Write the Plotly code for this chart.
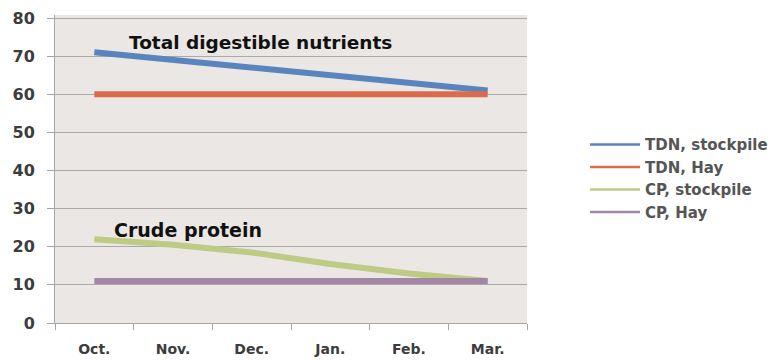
import plotly.graph_objects as go

months = ["Oct.", "Nov.", "Dec.", "Jan.", "Feb.", "Mar."]
tdn_stockpile = [71, 69, 67, 65, 63, 61]
tdn_hay = [60, 60, 60, 60, 60, 60]
cp_stockpile = [22, 20.5, 18.5, 15.5, 13, 11]
cp_hay = [11, 11, 11, 11, 11, 11]

series = [
    ("TDN, stockpile", tdn_stockpile, "#5A84BE"),
    ("TDN, Hay", tdn_hay, "#DA6C4C"),
    ("CP, stockpile", cp_stockpile, "#BDCB84"),
    ("CP, Hay", cp_hay, "#A385A6"),
]

FONT = "DejaVu Sans"

fig = go.Figure()
for name, vals, color in series:
    # thick data line
    fig.add_trace(go.Scatter(
        x=months, y=vals, name=name, mode="lines", showlegend=False,
        line=dict(color=color, width=6),
    ))
for name, vals, color in series:
    # thin legend key for the same series
    fig.add_trace(go.Scatter(
        x=[None], y=[None], name=name, mode="lines",
        line=dict(color=color, width=2.5),
    ))

fig.add_annotation(x=0.42, y=73.5, xref="x", yref="y", text="<b>Total digestible nutrients</b>",
                   showarrow=False, xanchor="left", yanchor="middle",
                   font=dict(family=FONT, size=18.5, color="#111111"))
fig.add_annotation(x=0.23, y=24.4, xref="x", yref="y", text="<b>Crude protein</b>",
                   showarrow=False, xanchor="left", yanchor="middle",
                   font=dict(family=FONT, size=19, color="#111111"))

fig.update_layout(
    width=775, height=360,
    margin=dict(l=55, r=248, t=15, b=37, autoexpand=False),
    paper_bgcolor="white",
    plot_bgcolor="#EAE7E4",
    font=dict(family=FONT, size=12, color="#404040"),
    legend=dict(x=1.123, y=0.47, xanchor="left", yanchor="middle",
                font=dict(family=FONT, size=15, color="#555555", weight="bold"),
                bgcolor="rgba(0,0,0,0)", tracegroupgap=0, itemwidth=50),
)
fig.update_xaxes(
    type="category", range=[-0.5, 5.5], automargin=False,
    showline=True, linecolor="#A8A5A3", linewidth=1,
    ticks="outside", tickson="boundaries", ticklen=6, tickcolor="#A8A5A3",
    ticklabelstandoff=13,
    showgrid=False, tickfont=dict(family=FONT, size=14, color="#3C3C3C", weight="bold"),
)
fig.update_yaxes(
    range=[0, 80.8], tickvals=[0, 10, 20, 30, 40, 50, 60, 70, 80], automargin=False,
    showline=True, linecolor="#A8A5A3", linewidth=1,
    ticks="outside", ticklen=7, tickcolor="#A8A5A3",
    ticklabelstandoff=9,
    showgrid=True, gridcolor="#ABA8A6", gridwidth=1, zeroline=False,
    tickfont=dict(family=FONT, size=16, color="#3C3C3C", weight="bold"),
)

fig.write_html("out.html")
